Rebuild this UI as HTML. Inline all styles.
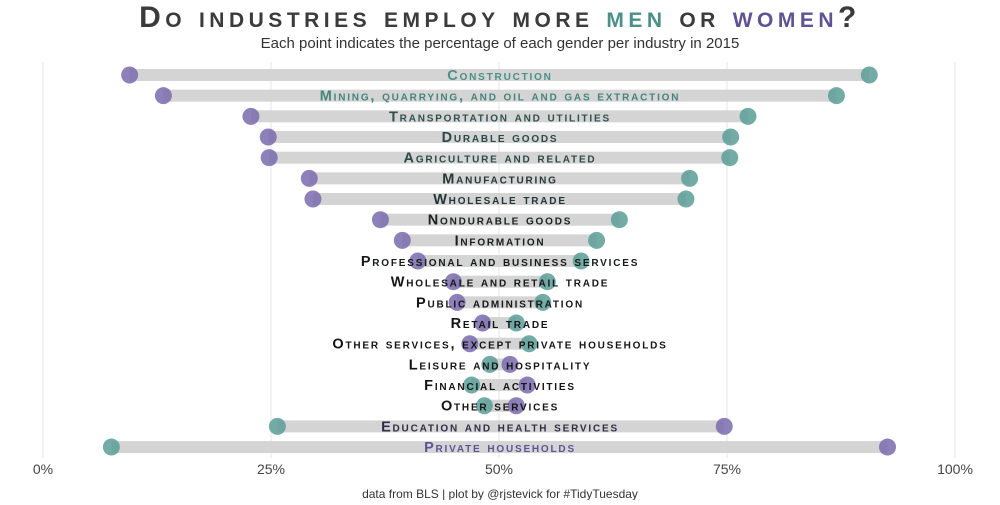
<!DOCTYPE html>
<html><head><meta charset="utf-8"><style>
body{margin:0;background:#fff;}
svg text{font-family:"Liberation Sans",sans-serif;}
</style></head><body>
<svg id="chart" width="1000" height="500">
<text x="500" y="27" text-anchor="middle" font-size="30" font-weight="bold" fill="#3b3b3b" style="font-variant:small-caps;letter-spacing:4.5px">Do industries employ more <tspan fill="#4a9089">men</tspan> or <tspan fill="#5f5394">women</tspan>?</text>
<text x="500" y="48" text-anchor="middle" font-size="15" fill="#333">Each point indicates the percentage of each gender per industry in 2015</text>
<g id="grid"></g><g id="bars"></g><g id="dots"></g><g id="labels"></g><g id="xticks"></g>
<text x="500" y="498" text-anchor="middle" font-size="12" fill="#333">data from BLS | plot by @rjstevick for #TidyTuesday</text>
</svg>
<script>
const industries=["Construction","Mining, quarrying, and oil and gas extraction","Transportation and utilities","Durable goods","Agriculture and related","Manufacturing","Wholesale trade","Nondurable goods","Information","Professional and business services","Wholesale and retail trade","Public administration","Retail trade","Other services, except private households","Leisure and hospitality","Financial activities","Other services","Education and health services","Private households"];
const menPct=[90.6,87.0,77.3,75.4,75.3,70.9,70.5,63.2,60.7,59.0,55.3,54.8,51.9,53.3,49.0,47.0,48.4,25.7,7.5];
const womenPct=[9.5,13.2,22.8,24.7,24.8,29.2,29.6,37.0,39.4,41.1,45.0,45.4,48.2,46.8,51.2,53.1,51.9,74.7,92.6];
const ticks=[0,25,50,75,100];
const tickLabels=["0%","25%","50%","75%","100%"];
const NS="http://www.w3.org/2000/svg";
const xs=p=>43+p*9.12;
const ys=i=>75+i*20.67;
function mk(tag,attrs,parent){const e=document.createElementNS(NS,tag);for(const k in attrs)e.setAttribute(k,attrs[k]);document.getElementById(parent).appendChild(e);return e;}
function mix(a,b,t){return "rgb("+a.map((v,i)=>Math.round(v+(b[i]-v)*t)).join(",")+")";}
ticks.forEach((t,i)=>{
 const l=mk("line",{x1:xs(t),x2:xs(t),y1:62,y2:458,stroke:"#e6e6e6","stroke-width":1},"grid");
 
 
 const tx=mk("text",{x:xs(t),y:474,"text-anchor":"middle","font-size":14,fill:"#444"},"xticks");
 tx.textContent=tickLabels[i];
 
 
});
industries.forEach((name,i)=>{
 const y=ys(i),a=Math.min(menPct[i],womenPct[i]),b=Math.max(menPct[i],womenPct[i]);
 const r=mk("rect",{x:xs(a),y:y-6,width:xs(b)-xs(a),height:12,fill:"#d4d4d4"},"bars");
 
 
 const w=mk("circle",{cx:xs(womenPct[i]),cy:y,r:8.5,fill:"#7a6aad","fill-opacity":0.85},"dots");
 
 
 const m=mk("circle",{cx:xs(menPct[i]),cy:y,r:8.5,fill:"#5a9e97","fill-opacity":0.85},"dots");
 
 
 const d=(menPct[i]-womenPct[i])/85;
 const col=d>=0?mix([20,20,20],[74,144,137],Math.min(1,d*d*1.2)):mix([20,20,20],[95,83,148],Math.min(1,d*d*1.2));
 const t=mk("text",{x:500,y:y+5,"text-anchor":"middle","font-size":14.5,"font-weight":"bold",fill:col,style:"font-variant:small-caps;letter-spacing:1.8px"},"labels");
 t.textContent=name;
 
 
});
</script>
</body></html>
